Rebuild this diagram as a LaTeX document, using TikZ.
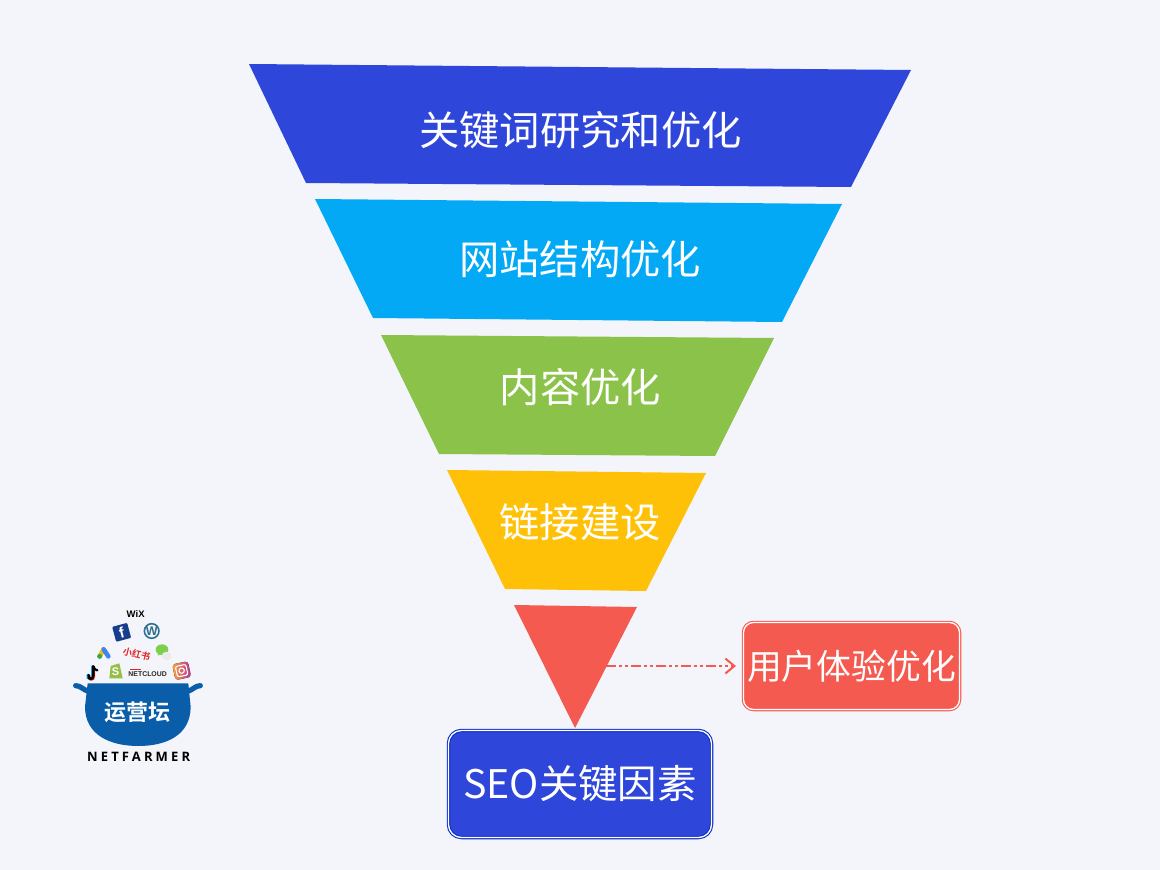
\documentclass[tikz,border=0pt]{standalone}
\usepackage{fontspec}
\setmainfont{Liberation Sans}
\newfontfamily\cjk{Noto Sans CJK SC}
\newfontfamily\cjkb{Noto Sans CJK SC}[BoldFont={Noto Sans CJK SC Bold}]
\newfontfamily\logofont[LetterSpace=24]{Open Sans}
\usetikzlibrary{arrows.meta}
\definecolor{pagebg}{HTML}{F3F5FB}
\definecolor{fblue}{HTML}{2E47DA}
\definecolor{fcyan}{HTML}{03A9F4}
\definecolor{fgreen}{HTML}{8BC34A}
\definecolor{famber}{HTML}{FFC107}
\definecolor{fred}{HTML}{F55A50}
\definecolor{potblue}{HTML}{0A5DA8}
\definecolor{boxedge}{HTML}{0F30C4}
\definecolor{igpurple}{HTML}{B5359F}
\definecolor{igorange}{HTML}{F8A13C}
\definecolor{fbicon}{HTML}{163E8C}
\definecolor{wpicon}{HTML}{2F6F8F}
\definecolor{wechat}{HTML}{7CD04A}
\definecolor{shopicon}{HTML}{95BF47}
\definecolor{adsyellow}{HTML}{F6BC14}
\definecolor{adsblue}{HTML}{3F86EE}
\definecolor{adsgreen}{HTML}{34A853}
\definecolor{xhsred}{HTML}{E2242B}
\tikzset{
  bandlabel/.style={text=white,inner sep=0pt,font=\cjk\fontsize{40.3}{40}\selectfont},
  keybox/.style={rounded corners=13pt,fill=#1,double=white,double distance=1.3pt,line width=1.1pt,
    inner sep=0pt,anchor=center,text=white},
  potgrip/.style={draw=potblue,line width=5.2pt,line cap=round},
  smalllogo/.style={inner sep=0pt,font=\fontsize{#1}{#1}\selectfont\bfseries}
}
\begin{document}
\begin{tikzpicture}[x=1pt,y=-1pt]
\useasboundingbox (0,0) rectangle (1160,870);
\fill[pagebg] (0,0) rectangle (1160,870);
% funnel bands
\fill[fblue] (249,64) -- (911,70) -- (851,187) -- (306,183) -- cycle;
\fill[fcyan] (315,199) -- (842,204) -- (782,322) -- (373,318) -- cycle;
\fill[fgreen] (381,335) -- (774,338) -- (715,456) -- (439,454) -- cycle;
\fill[famber] (447,470) -- (706,473) -- (646,591) -- (505,589) -- cycle;
\fill[fred] (514,605) -- (637,607) -- (575,728) -- cycle;
\node[bandlabel] (b1) at (580.5,130) {关键词研究和优化};
\node[bandlabel] (b2) at (580,259) {网站结构优化};
\node[bandlabel] (b3) at (580.5,387) {内容优化};
\node[bandlabel] (b4) at (580,522) {链接建设};
% boxes
\node[keybox=fblue,draw=boxedge,minimum width=263pt,minimum height=107pt] (seo) at (580,784)
  {\cjk\fontsize{39.4}{39}\selectfont SEO关键因素};
\node[keybox=fred,draw=fred,rounded corners=10pt,minimum width=216pt,minimum height=87pt] (ux) at (851.5,666)
  {\cjk\fontsize{34.8}{35}\selectfont 用户体验优化};
\coordinate (uxstart) at (606,666);
\draw[fred,line width=2.5pt,dash pattern=on 10pt off 3pt on 3pt off 3pt on 3pt off 3pt,
  -{Straight Barb[length=9pt,width=15pt,line width=2pt]},shorten >=7pt] (uxstart) -- (ux.west);
% logo
\begin{scope}[shift={(60,600)},x=0.3333pt,y=-0.3333pt]
  % pot
  \fill[potblue] (83,250) -- (385,250) -- (392,320) .. controls (392,405) and (320,438) .. (235,438)
     .. controls (150,438) and (75,405) .. (75,320) -- cycle;
  \draw[potgrip] (47,257) .. controls (62,257) and (70,270) .. (85,274);
  \draw[potgrip] (421,257) .. controls (406,257) and (398,270) .. (383,274);
  \node[inner sep=0pt,text=white] (potname) at (233,338) {\cjkb\bfseries\fontsize{22}{22}\selectfont 运营坛};
  \node[inner sep=0pt,text=black] (brand) at (236,472) {\logofont\bfseries\fontsize{13}{13}\selectfont NETFARMER};
  \node[smalllogo=9.5,text=black] (wix) at (227,42) {WiX};
  % facebook
  \node[fill=fbicon,rounded corners=1pt,minimum size=15.5pt,inner sep=0pt,rotate=15,text=white,
     font=\fontsize{15}{15}\selectfont\bfseries] (fb) at (185,97) {f};
  % wordpress
  \node[circle,draw=wpicon,line width=1.6pt,minimum size=14.5pt,inner sep=0pt,text=wpicon,
     font=\fontsize{12.5}{12.5}\selectfont\bfseries] (wp) at (275,93) {W};
  % google ads
  \draw[line width=4.6pt,line cap=round,color=adsyellow] (131,148) -- (119,169);
  \draw[line width=4.6pt,line cap=round,color=adsblue] (131,148) -- (145,169);
  \fill[adsgreen] (119,169) circle (7.5);
  % xiaohongshu
  \node[inner sep=0pt,text=xhsred,rotate=-14] (xhs) at (230,163) {\cjkb\bfseries\fontsize{9.2}{9}\selectfont 小红书};
  % wechat
  \fill[wechat] (306,149) ellipse (19 and 16);
  \fill[wechat] (296,160) -- (304,162) -- (293,167) -- cycle;
  \fill[black!8] (320,168) ellipse (15 and 13);
  % tiktok
  \draw[cyan!80!teal,line width=2.4pt,line cap=round] (97,199) -- (97,227) .. controls (97,241) and (79,239) .. (83,225);
  \draw[red!85,line width=2.4pt,line cap=round] (102,201) -- (102,229) .. controls (102,243) and (84,241) .. (88,227);
  \draw[black,line width=2.4pt,line cap=round] (100,199) -- (100,227) .. controls (100,241) and (82,239) .. (86,225);
  \draw[black,line width=2.2pt,line cap=round] (100,199) .. controls (102,207) and (106,210) .. (112,211);
  % shopify
  \fill[shopicon] (152,198) -- (178,190) -- (188,235) -- (148,235) -- cycle;
  \node[inner sep=0pt,text=white,font=\fontsize{11}{11}\selectfont\bfseries] (shop) at (167,215) {S};
  % netcloud
  \node[smalllogo=6.9,text=black!85] (net) at (263,222) {NETCLOUD};
  \fill[xhsred] (210,206) rectangle (243,209.5);
  % instagram
  \begin{scope}[rotate around={12:(365,212)}]
    \fill[rounded corners=3pt,left color=igorange,right color=igpurple] (341,188) rectangle (389,236);
    \draw[white,line width=1.1pt,rounded corners=2pt] (349,196) rectangle (381,228);
    \draw[white,line width=1.1pt] (365,212) circle (8);
  \end{scope}
\end{scope}
\end{tikzpicture}
\end{document}
